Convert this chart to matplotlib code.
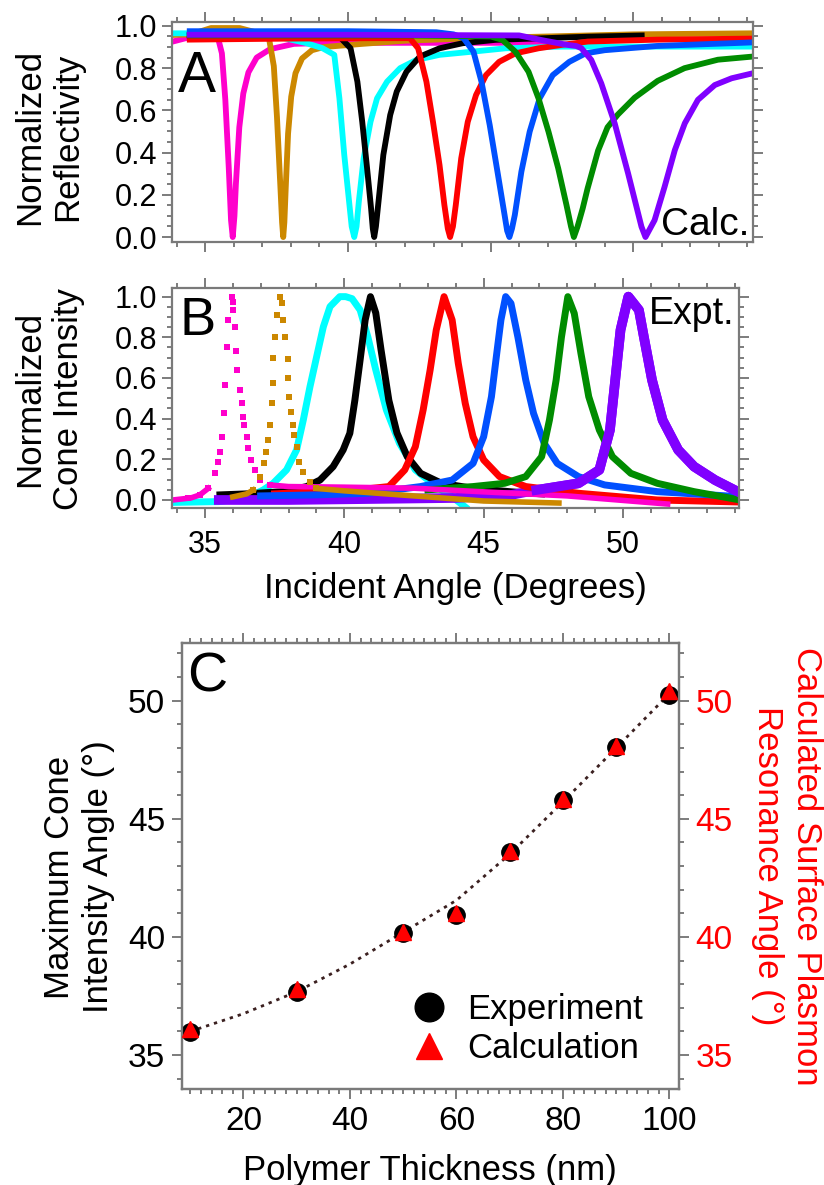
import matplotlib
matplotlib.use("Agg")
import matplotlib.pyplot as plt
from matplotlib.ticker import MultipleLocator, FormatStrFormatter, FixedLocator

plt.rcParams['font.family'] = ['Liberation Sans', 'DejaVu Sans']

# ---------------- data ----------------
# Panel A: calculated reflectivity (angle, reflectivity)
A_mag_x = [33.83, 34.4, 35.3, 35.45, 35.58, 35.70, 35.82, 35.90, 35.96, 36.02, 36.07, 36.19, 36.33, 36.51, 36.80, 37.27, 38.1, 39.3, 41.0, 44.0, 47.0]
A_mag_y = [0.925, 0.945, 0.95, 0.94, 0.87, 0.65, 0.33, 0.08, 0.0, 0.1, 0.25, 0.52, 0.68, 0.78, 0.85, 0.89, 0.915, 0.92, 0.92, 0.92, 0.92]
A_org_x = [33.83, 34.5, 35.2, 36.2, 36.9, 37.22, 37.40, 37.51, 37.63, 37.69, 37.73, 37.77, 37.82, 37.90, 38.01, 38.16, 38.39, 38.74, 39.15, 40.5, 42.0, 44.0, 47.0, 50.0, 54.2]
A_org_y = [0.957, 0.96, 0.99, 0.99, 0.965, 0.95, 0.81, 0.57, 0.24, 0.07, 0.0, 0.07, 0.24, 0.49, 0.665, 0.776, 0.846, 0.885, 0.90, 0.915, 0.93, 0.94, 0.95, 0.96, 0.965]
A_cya_x = [33.83, 36.0, 37.5, 38.5, 39.1, 39.52, 39.7, 39.87, 40.04, 40.13, 40.22, 40.30, 40.38, 40.55, 40.79, 41.02, 41.37, 41.83, 42.4, 43.21, 44.36, 45.52, 47.48, 54.2]
A_cya_y = [0.965, 0.965, 0.95, 0.92, 0.895, 0.863, 0.657, 0.389, 0.167, 0.05, 0.0, 0.05, 0.167, 0.373, 0.546, 0.657, 0.736, 0.80, 0.839, 0.863, 0.878, 0.894, 0.902, 0.902]
A_blk_x = [34.35, 37.0, 39.0, 39.75, 40.09, 40.33, 40.5, 40.67, 40.81, 40.87, 40.92, 40.98, 41.07, 41.24, 41.48, 41.71, 42.05, 42.52, 43.21, 44.02, 45.17, 46.9, 48.4, 50.4]
A_blk_y = [0.955, 0.955, 0.955, 0.942, 0.894, 0.736, 0.546, 0.326, 0.136, 0.04, 0.0, 0.05, 0.167, 0.389, 0.578, 0.689, 0.783, 0.855, 0.894, 0.918, 0.934, 0.942, 0.949, 0.955]
A_red_x = [34.35, 38.0, 41.0, 42.17, 42.46, 42.75, 42.98, 43.21, 43.38, 43.5, 43.58, 43.68, 43.78, 43.97, 44.2, 44.49, 44.84, 45.3, 45.87, 46.68, 47.49, 48.41, 50.83, 54.2]
A_red_y = [0.935, 0.94, 0.942, 0.942, 0.894, 0.736, 0.546, 0.341, 0.152, 0.04, 0.0, 0.05, 0.152, 0.373, 0.546, 0.673, 0.767, 0.83, 0.87, 0.894, 0.91, 0.926, 0.935, 0.94]
A_blu_x = [34.35, 40.0, 43.1, 43.7, 44.05, 44.4, 44.68, 44.97, 45.26, 45.49, 45.58, 45.66, 45.75, 45.85, 46.08, 46.37, 46.72, 47.18, 47.76, 48.33, 49.0, 50.83, 54.2]
A_blu_y = [0.975, 0.975, 0.97, 0.96, 0.942, 0.878, 0.736, 0.53, 0.294, 0.105, 0.03, 0.0, 0.04, 0.105, 0.31, 0.499, 0.657, 0.767, 0.83, 0.87, 0.885, 0.905, 0.922]
A_grn_x = [34.35, 42.0, 45.0, 45.41, 45.87, 46.33, 46.68, 47.03, 47.37, 47.66, 47.82, 47.92, 48.05, 48.23, 48.4, 48.77, 49.1, 49.46, 50.05, 50.86, 51.8, 52.97, 54.2]
A_grn_y = [0.955, 0.955, 0.95, 0.934, 0.878, 0.783, 0.657, 0.499, 0.326, 0.152, 0.05, 0.0, 0.05, 0.136, 0.23, 0.41, 0.52, 0.58, 0.66, 0.74, 0.80, 0.84, 0.855]
A_pur_x = [34.35, 40.0, 46.0, 46.9, 47.7, 48.0, 48.18, 48.53, 48.88, 49.35, 49.82, 50.29, 50.43, 50.75, 51.1, 51.46, 51.81, 52.27, 52.86, 53.45, 54.2]
A_pur_y = [0.958, 0.958, 0.955, 0.93, 0.91, 0.905, 0.895, 0.839, 0.728, 0.539, 0.302, 0.049, 0.0, 0.08, 0.238, 0.412, 0.539, 0.65, 0.72, 0.752, 0.776]

# Panel B: experimental cone intensity (angle, intensity)
B_mag_x = [34.4, 34.82, 35.12, 35.36, 35.48, 35.56, 35.63, 35.68, 35.72, 35.78, 35.84, 35.96, 36.02, 36.02, 36.08, 36.11, 36.16, 36.26, 36.32, 36.38, 36.40, 36.5, 36.55, 36.67, 36.79, 36.97, 37.33]
B_mag_y = [0.008, 0.025, 0.057, 0.131, 0.188, 0.238, 0.311, 0.43, 0.566, 0.751, 0.885, 1.0, 0.975, 0.935, 0.852, 0.734, 0.639, 0.541, 0.476, 0.41, 0.369, 0.311, 0.254, 0.197, 0.148, 0.098, 0.074]
B_mag_tail_x = [33.85, 34.5, 34.82, 35.12]
B_mag_tail_y = [0.0, 0.01, 0.025, 0.057]
B_mag_tail2_x = [37.33, 38.0, 40.0, 42.5, 45.0, 48.0, 51.6]
B_mag_tail2_y = [0.074, 0.066, 0.063, 0.058, 0.04, 0.02, -0.02]
B_org_x = [36.73, 36.97, 37.12, 37.21, 37.27, 37.33, 37.39, 37.43, 37.45, 37.51, 37.57, 37.69, 37.75, 37.81, 37.87, 37.97, 37.99, 38.03, 38.09, 38.15, 38.2, 38.29, 38.38, 38.53, 38.77, 39.0]
B_org_y = [0.049, 0.115, 0.18, 0.238, 0.295, 0.369, 0.476, 0.574, 0.697, 0.80, 0.91, 1.0, 0.967, 0.885, 0.80, 0.692, 0.598, 0.508, 0.434, 0.369, 0.32, 0.262, 0.188, 0.139, 0.09, 0.057]
B_org_tail_x = [36.0, 36.5, 36.73]
B_org_tail_y = [0.015, 0.03, 0.049]
B_org_tail2_x = [39.0, 40.0, 41.5, 43.0, 45.0, 47.7]
B_org_tail2_y = [0.057, 0.045, 0.03, 0.015, -0.005, -0.015]
B_cya_x = [33.85, 35.5, 36.5, 37.09, 37.45, 37.93, 38.29, 38.53, 38.77, 39.01, 39.25, 39.49, 39.84, 40.05, 40.28, 40.57, 40.85, 41.13, 41.51, 41.98, 42.55, 43.3, 43.87, 44.34]
B_cya_y = [-0.012, -0.008, 0.01, 0.049, 0.082, 0.148, 0.246, 0.393, 0.557, 0.705, 0.852, 0.951, 1.0, 1.0, 0.99, 0.934, 0.80, 0.64, 0.443, 0.279, 0.148, 0.066, 0.016, -0.035]
B_blk_x = [35.54, 36.5, 37.81, 38.65, 39.13, 39.6, 39.96, 40.2, 40.38, 40.57, 40.75, 40.94, 41.13, 41.32, 41.6, 41.89, 42.26, 42.74, 43.49, 44.62, 46.0, 47.08]
B_blk_y = [0.025, 0.03, 0.041, 0.066, 0.098, 0.164, 0.246, 0.328, 0.49, 0.69, 0.885, 1.0, 0.92, 0.738, 0.49, 0.33, 0.213, 0.131, 0.082, 0.057, 0.04, 0.03]
B_red_x = [37.5, 39.0, 40.5, 41.6, 42.17, 42.55, 42.83, 43.08, 43.3, 43.58, 43.87, 44.09, 44.34, 44.62, 45.0, 45.57, 46.51, 48.4, 51.23, 54.2]
B_red_y = [0.03, 0.04, 0.05, 0.066, 0.148, 0.262, 0.443, 0.639, 0.836, 1.0, 0.885, 0.672, 0.475, 0.311, 0.197, 0.115, 0.066, 0.033, 0.0, -0.01]
B_blu_x = [37.0, 39.0, 40.85, 42.74, 43.87, 44.62, 45.0, 45.28, 45.47, 45.62, 45.79, 45.98, 46.23, 46.51, 46.79, 47.17, 47.64, 48.4, 49.34, 51.23, 54.2]
B_blu_y = [0.02, 0.025, 0.033, 0.066, 0.098, 0.18, 0.311, 0.508, 0.721, 0.885, 1.0, 0.967, 0.80, 0.59, 0.426, 0.279, 0.18, 0.115, 0.074, 0.041, 0.016]
B_grn_x = [43.0, 44.62, 45.75, 46.51, 47.08, 47.36, 47.6, 47.79, 48.02, 48.25, 48.49, 48.77, 49.15, 49.62, 50.28, 51.23, 52.55, 54.2]
B_grn_y = [0.05, 0.066, 0.082, 0.115, 0.213, 0.393, 0.59, 0.80, 1.0, 0.918, 0.721, 0.508, 0.344, 0.213, 0.131, 0.082, 0.041, 0.0]
B_pur_x = [35.5, 38.0, 41.0, 44.0, 46.0, 46.89, 48.4, 49.15, 49.53, 49.72, 49.91, 50.19, 50.57, 50.75, 51.04, 51.42, 51.98, 52.55, 53.3, 54.2]
B_pur_y = [0.0, 0.0, 0.005, 0.01, 0.025, 0.049, 0.082, 0.148, 0.344, 0.59, 0.836, 1.0, 0.934, 0.80, 0.59, 0.393, 0.246, 0.164, 0.098, 0.035]

# Panel C
thickness = [10, 30, 50, 60, 70, 80, 90, 100]
exp_angle = [35.96, 37.68, 40.15, 40.93, 43.58, 45.78, 48.05, 50.23]
calc_angle = [36.1, 37.8, 40.22, 41.0, 43.63, 45.85, 48.1, 50.42]
fit_x = [10, 20, 30, 40, 50, 60, 70, 80, 90, 100]
fit_y = [36.0, 36.75, 37.68, 38.85, 40.2, 41.55, 43.5, 45.72, 48.0, 50.3]

colors = {'mag': '#FF00CC', 'org': '#CC8800', 'cya': '#00FFFF', 'blk': '#000000',
          'red': '#FF0000', 'blu': '#0050FF', 'grn': '#008C00', 'pur': '#8000FF'}

# ---------------- figure ----------------
W, H = 824, 1185
fig = plt.figure(figsize=(W / 100, H / 100), dpi=100)


def rect(l, t, r, b):
    return [l / W, 1 - b / H, (r - l) / W, (b - t) / H]


def fx(px):
    return px / W


def fy(py):
    return 1 - py / H


SPINE = '#7a7a7a'
TICK = '#666666'


def style(ax, lsize):
    for s in ax.spines.values():
        s.set_color(SPINE)
        s.set_linewidth(1.6)
    ax.tick_params(which='both', direction='out', color=TICK, width=1.2, labelsize=lsize)
    ax.tick_params(which='major', length=7)
    ax.tick_params(which='minor', length=3.6)


axA = fig.add_axes(rect(171.7, 21.7, 753, 241.7))
axB = fig.add_axes(rect(171.7, 288.3, 739, 507.5))
axC = fig.add_axes(rect(181.7, 643.3, 679, 1089.3))

# Panel A
for key, xs, ys in [('mag', A_mag_x, A_mag_y), ('org', A_org_x, A_org_y), ('cya', A_cya_x, A_cya_y),
                    ('blk', A_blk_x, A_blk_y), ('red', A_red_x, A_red_y), ('blu', A_blu_x, A_blu_y),
                    ('grn', A_grn_x, A_grn_y), ('pur', A_pur_x, A_pur_y)]:
    axA.plot(xs, ys, color=colors[key], lw=4.2, solid_joinstyle='round', solid_capstyle='butt')

for ax in (axA, axB):
    ax.set_xlim(33.82, 54.2)
    ax.xaxis.set_major_locator(FixedLocator([35, 40, 45, 50]))
    ax.xaxis.set_minor_locator(MultipleLocator(1))
    ax.yaxis.set_major_locator(MultipleLocator(0.2))
    ax.yaxis.set_minor_locator(MultipleLocator(0.05))
    ax.yaxis.set_major_formatter(FormatStrFormatter('%.1f'))
    style(ax, 22)
    ax.tick_params(which='both', top=True, right=True)
    ax.tick_params(axis='y', pad=3.6)

axA.set_ylim(-0.022, 1.02)
axA.tick_params(labelbottom=False)
axB.set_xlim(33.81, 54.16)
axB.set_ylim(-0.037, 1.041)
axB.tick_params(axis='x', pad=9)

# Panel B
for key, xs, ys, lw in [('cya', B_cya_x, B_cya_y, 5), ('blk', B_blk_x, B_blk_y, 5),
                        ('pur', B_pur_x, B_pur_y, 7), ('red', B_red_x, B_red_y, 5),
                        ('blu', B_blu_x, B_blu_y, 5), ('grn', B_grn_x, B_grn_y, 5)]:
    axB.plot(xs, ys, color=colors[key], lw=lw, solid_joinstyle='round')
for key, xs, ys in [('mag', B_mag_tail_x, B_mag_tail_y), ('mag', B_mag_tail2_x, B_mag_tail2_y),
                    ('org', B_org_tail_x, B_org_tail_y), ('org', B_org_tail2_x, B_org_tail2_y)]:
    axB.plot(xs, ys, color=colors[key], lw=4)
axB.plot(B_mag_x, B_mag_y, ls='none', marker='s', ms=4.8, color=colors['mag'], mew=0)
axB.plot(B_org_x, B_org_y, ls='none', marker='s', ms=4.8, color=colors['org'], mew=0)
# purple peak drawn above the green tail
axB.plot(B_pur_x[5:], B_pur_y[5:], color=colors['pur'], lw=7, solid_joinstyle='round')

# Panel C
axC.plot(fit_x, fit_y, color='#3b2020', lw=2, ls=(0, (1.2, 1.8)), zorder=2)
h_exp, = axC.plot(thickness, exp_angle, ls='none', marker='o', ms=12.5, color='black', zorder=3)
axC.set_xlim(8.4, 101.8)
axC.set_ylim(33.55, 52.43)
axC.xaxis.set_major_locator(FixedLocator([20, 40, 60, 80, 100]))
axC.xaxis.set_minor_locator(MultipleLocator(2))
axC.yaxis.set_major_locator(FixedLocator([35, 40, 45, 50]))
axC.yaxis.set_minor_locator(MultipleLocator(1))
style(axC, 24)
axC.tick_params(which='both', top=True, right=False)
axC.tick_params(axis='x', pad=5)
axC.tick_params(axis='y', pad=5)

axC2 = axC.twinx()
h_calc, = axC2.plot(thickness, calc_angle, ls='none', marker='^', ms=11.5, color='red', zorder=3)
axC2.set_ylim(33.55, 52.43)
axC2.yaxis.set_major_locator(FixedLocator([35, 40, 45, 50]))
axC2.yaxis.set_minor_locator(MultipleLocator(1))
style(axC2, 24)
axC2.tick_params(which='both', right=True, left=False)
axC2.tick_params(axis='y', pad=5, labelcolor='red')

axC2.legend([h_exp, h_calc], ['Experiment', 'Calculation'], loc='upper left',
            bbox_to_anchor=(fx(412), fy(993)), bbox_transform=fig.transFigure,
            frameon=False, fontsize=25, markerscale=1.65, handlelength=1.0,
            handletextpad=0.6, labelspacing=0.17, borderpad=0, borderaxespad=0)

# ---------------- text ----------------
fig.text(fx(178), fy(91.7), 'A', fontsize=41, va='baseline', ha='left')
fig.text(fx(179), fy(335), 'B', fontsize=39, va='baseline', ha='left')
fig.text(fx(187), fy(691), 'C', fontsize=40, va='baseline', ha='left')
fig.text(fx(661), fy(235), 'Calc.', fontsize=28, va='baseline', ha='left')
fig.text(fx(649), fy(324), 'Expt.', fontsize=27, va='baseline', ha='left')

fig.text(fx(49), fy(137), 'Normalized\nReflectivity', fontsize=25, rotation=90,
         ha='center', va='center', multialignment='center')
fig.text(fx(49), fy(399), 'Normalized\nCone Intensity', fontsize=25, rotation=90,
         ha='center', va='center', multialignment='center')
fig.text(fx(455), fy(598), 'Incident Angle (Degrees)', fontsize=25, ha='center', va='baseline')
fig.text(fx(79), fy(877), 'Maximum Cone\nIntensity Angle (\u00b0)', fontsize=25, rotation=90,
         ha='center', va='center', multialignment='center')
fig.text(fx(787), fy(866), 'Calculated Surface Plasmon\nResonance Angle (\u00b0)', fontsize=25,
         rotation=270, ha='center', va='center', multialignment='center', color='red')
fig.text(fx(430), fy(1180), 'Polymer Thickness (nm)', fontsize=25, ha='center', va='baseline')

fig.savefig('out.png', dpi=100)
